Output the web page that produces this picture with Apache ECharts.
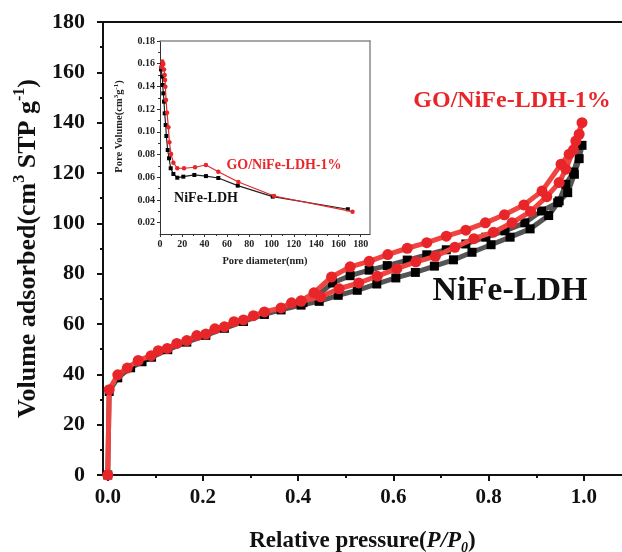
<!DOCTYPE html>
<html>
<head>
<meta charset="utf-8">
<script src="https://cdn.jsdelivr.net/npm/echarts@6/dist/echarts.min.js"></script>
<style>
  html, body { margin: 0; padding: 0; background: #fff; }
  #chart { width: 622px; height: 552px; }
</style>
</head>
<body>
<div id="chart"></div>
<script>
// N2 adsorption-desorption isotherms, [P/P0, volume adsorbed]
const niFeAds = [
  [0, 0], [0.003, 33.2], [0.021, 38.6], [0.048, 42.6], [0.072, 45.0], [0.092, 46.8],
  [0.126, 49.8], [0.166, 52.8], [0.206, 55.5], [0.245, 58.3], [0.285, 61.0], [0.329, 63.8],
  [0.364, 65.6], [0.406, 67.5], [0.444, 69.0], [0.484, 71.4], [0.524, 73.4], [0.565, 75.9],
  [0.605, 78.3], [0.646, 80.5], [0.686, 83.0], [0.726, 85.5], [0.765, 88.5], [0.805, 91.5],
  [0.845, 94.5], [0.887, 97.8], [0.926, 103.1], [0.948, 108.9], [0.962, 115.5], [0.978, 120.4],
  [0.996, 131.0]
];
const niFeDes = [
  [0.990, 125.7], [0.980, 119.5], [0.966, 112.2], [0.945, 108.2], [0.911, 104.9],
  [0.876, 100.2], [0.834, 97.0], [0.794, 94.5], [0.752, 91.8], [0.711, 89.5], [0.670, 87.5],
  [0.629, 85.4], [0.587, 83.2], [0.549, 81.4], [0.509, 79.2], [0.472, 76.3], [0.438, 71.0],
  [0.410, 68.5]
];
const goAds = [
  [0, 0], [0.003, 33.9], [0.021, 39.8], [0.041, 42.5], [0.064, 45.5], [0.091, 47.4],
  [0.106, 49.4], [0.125, 50.3], [0.145, 52.3], [0.166, 53.4], [0.187, 55.4], [0.206, 56.0],
  [0.225, 58.1], [0.245, 58.9], [0.265, 60.9], [0.285, 61.6], [0.306, 63.3], [0.329, 64.8],
  [0.364, 66.4], [0.386, 68.4], [0.406, 69.0], [0.447, 70.8], [0.486, 74.0], [0.527, 76.3],
  [0.566, 79.0], [0.607, 82.0], [0.647, 84.7], [0.688, 86.9], [0.729, 90.5], [0.769, 93.9],
  [0.810, 96.5], [0.849, 100.2], [0.888, 104.7], [0.922, 110.6], [0.948, 116.2], [0.962, 121.5],
  [0.978, 129.2], [0.990, 135.4], [0.996, 140.0]
];
const goDes = [
  [0.983, 132.7], [0.969, 127.5], [0.952, 123.5], [0.912, 112.8], [0.874, 107.3],
  [0.833, 103.4], [0.793, 100.2], [0.752, 97.3], [0.711, 94.9], [0.670, 92.3], [0.629, 90.1],
  [0.588, 87.6], [0.549, 84.9], [0.509, 82.7], [0.470, 78.7], [0.433, 72.4], [0.406, 69.2]
];

// Pore size distribution, [pore diameter (nm), pore volume]
const niFePore = [
  [0.9, 0.155], [2.1, 0.1486], [2.4, 0.1412], [3.0, 0.1339], [3.6, 0.1266], [4.2, 0.1163],
  [5.1, 0.106], [5.7, 0.0963], [6.9, 0.084], [8.1, 0.0767], [9.6, 0.0679], [12.0, 0.0629],
  [15.5, 0.0596], [20.9, 0.0605], [30.8, 0.062], [41.2, 0.061], [52.3, 0.0593], [69.7, 0.0526],
  [101.1, 0.0429], [168.4, 0.0318]
];
const goPore = [
  [0.9, 0.157], [2.1, 0.162], [3.0, 0.1597], [3.6, 0.155], [4.2, 0.150], [4.5, 0.1457],
  [4.8, 0.1398], [5.4, 0.128], [6.3, 0.1169], [7.5, 0.104], [8.4, 0.0908], [9.9, 0.0805],
  [12.0, 0.0728], [15.5, 0.0679], [21.5, 0.0679], [31.4, 0.0688], [41.2, 0.0708], [52.3, 0.0649],
  [70.3, 0.0558], [102.3, 0.0435], [172.6, 0.0297]
];

const pressureTicks = [0, 0.2, 0.4, 0.6, 0.8, 1.0];
const pressureMinor = [0.1, 0.3, 0.5, 0.7, 0.9];
const diamTicks = [0, 20, 40, 60, 80, 100, 120, 140, 160, 180];
const diamMinor = [10, 30, 50, 70, 90, 110, 130, 150, 170];
const poreVolTicks = [0.02, 0.04, 0.06, 0.08, 0.10, 0.12, 0.14, 0.16, 0.18];
const poreVolMinor = [0.03, 0.05, 0.07, 0.09, 0.11, 0.13, 0.15, 0.17];

const serif = '"Liberation Serif", "Times New Roman", serif';
const ink = '#111';
const red = '#e8262a';

const chart = echarts.init(document.getElementById('chart'), null, { renderer: 'canvas' });

const bold = (size, extra) => Object.assign({ fontFamily: serif, fontWeight: 'bold', fontSize: size, color: ink }, extra || {});

const option = {
  animation: false,
  backgroundColor: '#fff',
  grid: [
    { left: 103, top: 22, right: 0, bottom: 77, outerBoundsMode: 'none', containLabel: false },
    { left: 160, top: 41, width: 210, height: 193, outerBoundsMode: 'none', containLabel: false }
  ],
  xAxis: [
    { // main pressure axis
      type: 'value', gridIndex: 0, min: -0.01, max: 1.08, position: 'bottom',
      axisLine: { show: true, onZero: false, lineStyle: { color: ink, width: 2 } },
      axisTick: { show: true, inside: false, length: 6, lineStyle: { color: ink, width: 2 }, customValues: pressureTicks },
      axisLabel: Object.assign(bold(21), { margin: 12, customValues: pressureTicks, formatter: v => v.toFixed(1) }),
      splitLine: { show: false },
      name: '{t|Relative pressure(}{i|P/P}{b|0}{t|)}',
      nameLocation: 'middle', nameGap: 52,
      nameTextStyle: {
        rich: {
          t: bold(23, { lineHeight: 28 }),
          i: bold(23, { fontStyle: 'italic', lineHeight: 28 }),
          b: bold(14, { fontStyle: 'italic', lineHeight: 14, verticalAlign: 'bottom' })
        }
      }
    },
    { // main minor ticks
      type: 'value', gridIndex: 0, min: -0.01, max: 1.08, position: 'bottom',
      axisLine: { show: false },
      axisTick: { show: true, length: 3, lineStyle: { color: ink, width: 2 }, customValues: pressureMinor },
      axisLabel: { show: false }, splitLine: { show: false }
    },
    { // main top frame
      type: 'value', gridIndex: 0, min: -0.01, max: 1.08, position: 'top',
      axisLine: { show: true, onZero: false, lineStyle: { color: ink, width: 2 } },
      axisTick: { show: false }, axisLabel: { show: false }, splitLine: { show: false }
    },
    { // inset diameter axis
      type: 'value', gridIndex: 1, min: 0, max: 188.3, position: 'bottom',
      axisLine: { show: true, onZero: false, lineStyle: { color: '#333', width: 1 } },
      axisTick: { show: true, length: 3, lineStyle: { color: '#333', width: 1 }, customValues: diamTicks },
      axisLabel: Object.assign(bold(10, { color: '#222' }), { margin: 5, customValues: diamTicks }),
      splitLine: { show: false },
      name: 'Pore diameter(nm)', nameLocation: 'middle', nameGap: 22,
      nameTextStyle: bold(10.5, { color: '#222' })
    },
    { // inset minor ticks
      type: 'value', gridIndex: 1, min: 0, max: 188.3, position: 'bottom',
      axisLine: { show: false },
      axisTick: { show: true, length: 2, lineStyle: { color: '#333', width: 1 }, customValues: diamMinor },
      axisLabel: { show: false }, splitLine: { show: false }
    },
    { // inset top frame
      type: 'value', gridIndex: 1, min: 0, max: 188.3, position: 'top',
      axisLine: { show: true, onZero: false, lineStyle: { color: '#8a8a8a', width: 1.5 } },
      axisTick: { show: false }, axisLabel: { show: false }, splitLine: { show: false }
    }
  ],
  yAxis: [
    { // main volume axis
      type: 'value', gridIndex: 0, min: 0, max: 180, interval: 20, position: 'left',
      axisLine: { show: true, onZero: false, lineStyle: { color: ink, width: 2 } },
      axisTick: { show: true, length: 6, lineStyle: { color: ink, width: 2 } },
      minorTick: { show: true, splitNumber: 2, length: 3, lineStyle: { color: ink, width: 2 } },
      axisLabel: Object.assign(bold(22), { margin: 18 }),
      splitLine: { show: false },
      name: '{t|Volume adsorbed(cm}{s|3}{t| STP g}{s|-1}{t|)}',
      nameLocation: 'middle', nameRotate: 90, nameGap: 57,
      nameTextStyle: {
        rich: {
          t: bold(26, { lineHeight: 32 }),
          s: bold(16, { lineHeight: 16, verticalAlign: 'top' })
        }
      }
    },
    { // inset pore volume axis
      type: 'value', gridIndex: 1, min: 0.01, max: 0.18, position: 'left',
      axisLine: { show: true, onZero: false, lineStyle: { color: '#333', width: 1 } },
      axisTick: { show: true, length: 3, lineStyle: { color: '#333', width: 1 }, customValues: poreVolTicks },
      axisLabel: Object.assign(bold(10, { color: '#222' }), { margin: 5, customValues: poreVolTicks, formatter: v => v.toFixed(2) }),
      splitLine: { show: false },
      name: '{t|Pore Volume(cm}{s|3}{t|g}{s|-1}{t|)}',
      nameLocation: 'middle', nameRotate: 90, nameGap: 34,
      nameTextStyle: {
        padding: [0, 0, 0, 22],
        rich: {
          t: bold(10.5, { color: '#222', lineHeight: 13 }),
          s: bold(7, { color: '#222', lineHeight: 7, verticalAlign: 'top' })
        }
      }
    },
    { // inset minor ticks
      type: 'value', gridIndex: 1, min: 0.01, max: 0.18, position: 'left',
      axisLine: { show: false },
      axisTick: { show: true, length: 2, lineStyle: { color: '#333', width: 1 }, customValues: poreVolMinor },
      axisLabel: { show: false }, splitLine: { show: false }
    },
    { // inset right frame
      type: 'value', gridIndex: 1, min: 0.01, max: 0.18, position: 'right',
      axisLine: { show: true, onZero: false, lineStyle: { color: '#8a8a8a', width: 1.5 } },
      axisTick: { show: false }, axisLabel: { show: false }, splitLine: { show: false }
    }
  ],
  series: [
    {
      name: 'NiFe-LDH', type: 'line', xAxisIndex: 0, yAxisIndex: 0,
      data: niFeAds.concat(niFeDes),
      symbol: 'rect', symbolSize: 9,
      lineStyle: { color: '#555', width: 5 },
      itemStyle: { color: '#000' },
      z: 2
    },
    {
      name: 'GO/NiFe-LDH-1%', type: 'line', xAxisIndex: 0, yAxisIndex: 0,
      data: goAds.concat(goDes),
      symbol: 'circle', symbolSize: 11,
      lineStyle: { color: '#ef4440', width: 5 },
      itemStyle: { color: red },
      z: 3
    },
    {
      name: 'NiFe-LDH pore', type: 'line', xAxisIndex: 3, yAxisIndex: 1,
      data: niFePore,
      symbol: 'rect', symbolSize: 4,
      lineStyle: { color: '#222', width: 1.2 },
      itemStyle: { color: '#000' },
      z: 2
    },
    {
      name: 'GO/NiFe-LDH-1% pore', type: 'line', xAxisIndex: 3, yAxisIndex: 1,
      data: goPore,
      symbol: 'circle', symbolSize: 4.5,
      lineStyle: { color: red, width: 1.2 },
      itemStyle: { color: red },
      z: 3
    }
  ],
  graphic: [
    { type: 'text', style: { x: 512, y: 101, text: 'GO/NiFe-LDH-1%', fill: red, align: 'center', verticalAlign: 'middle', font: 'bold 24px ' + serif } },
    { type: 'text', style: { x: 510, y: 291, text: 'NiFe-LDH', fill: ink, align: 'center', verticalAlign: 'middle', font: 'bold 34px ' + serif } },
    { type: 'text', style: { x: 284, y: 165, text: 'GO/NiFe-LDH-1%', fill: red, align: 'center', verticalAlign: 'middle', font: 'bold 14px ' + serif } },
    { type: 'text', style: { x: 206, y: 198, text: 'NiFe-LDH', fill: ink, align: 'center', verticalAlign: 'middle', font: 'bold 14px ' + serif } }
  ]
};

chart.setOption(option);
</script>
</body>
</html>
